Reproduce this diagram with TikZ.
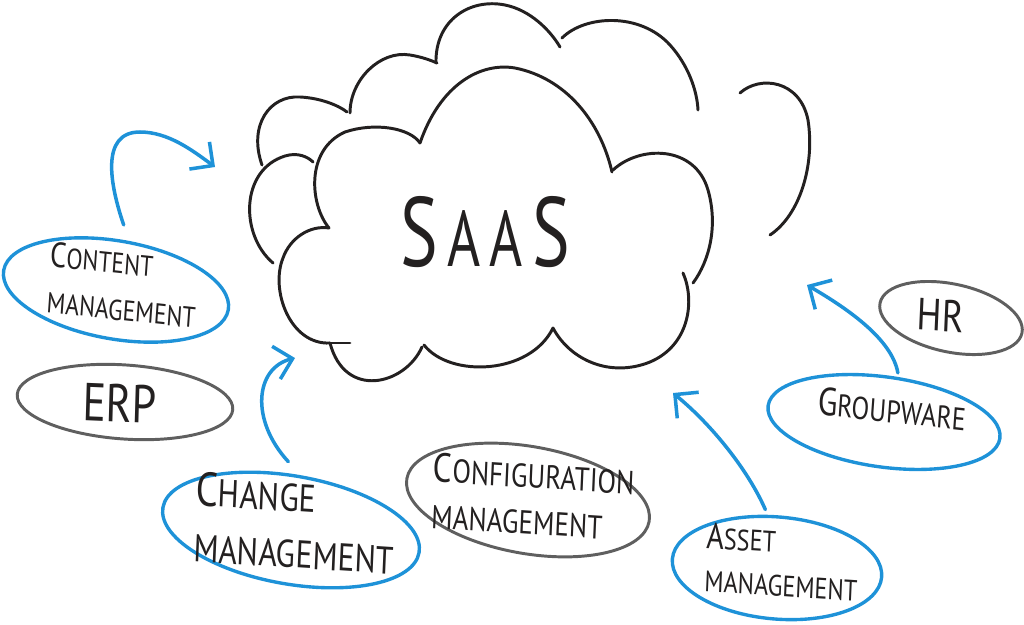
\documentclass[tikz,border=0pt]{standalone}
\usepackage{fontspec}
\setmainfont{PT Sans}
\usetikzlibrary{shapes.geometric, arrows.meta}
\definecolor{mblue}{RGB}{30,146,216}
\definecolor{ink}{RGB}{35,32,32}
\definecolor{pgray}{RGB}{95,95,95}
\begin{document}
\begin{tikzpicture}[x=0.025cm, y=-0.025cm,
  cloudline/.style={draw=ink, line width=2.1pt, line cap=round, line join=round},
  blueell/.style={ellipse, draw=mblue, line width=2.4pt, inner sep=0pt},
  grayell/.style={ellipse, draw=pgray, line width=2.1pt, inner sep=0pt},
  lbl/.style={text=ink, align=left, inner sep=0pt, xscale=0.82},
  barrow/.style={draw=mblue, line width=2.5pt, line cap=round, line join=round,
    -{Straight Barb[length=12pt,width=24pt]}}
]
\useasboundingbox (0,0) rectangle (1024,624);

% ---------- back cloud ----------
\draw[cloudline] (273,263) .. controls (240,235) and (240,170) .. (285,156) .. controls (298,152) and (308,157) .. (313,162);
\draw[cloudline] (262,165) .. controls (248,125) and (270,95) .. (300,97) .. controls (320,98) and (338,105) .. (347,112);
\draw[cloudline] (350,113) .. controls (350,80) and (380,50) .. (410,55) .. controls (422,57) and (430,60) .. (437,63);
\draw[cloudline] (436,63) .. controls (435,20) and (470,-2) .. (505,5) .. controls (530,10) and (550,30) .. (560,47);
\draw[cloudline] (562,38) .. controls (585,15) and (640,12) .. (670,45) .. controls (688,65) and (697,90) .. (698,110);
\draw[cloudline] (740,93) .. controls (760,75) and (800,80) .. (808,120) .. controls (815,165) and (800,215) .. (770,235);

% ---------- front cloud ----------
\draw[cloudline] (329,228) .. controls (310,205) and (305,150) .. (345,132) .. controls (375,122) and (410,128) .. (420,143);
\draw[cloudline] (420,143) .. controls (440,85) and (480,62) .. (515,68) .. controls (565,78) and (600,120) .. (612,172);
\draw[cloudline] (613,170) .. controls (640,145) and (695,145) .. (708,190) .. controls (718,225) and (710,260) .. (693,283);
\draw[cloudline] (683,273) .. controls (695,300) and (690,345) .. (650,362) .. controls (610,378) and (570,360) .. (553,328);
\draw[cloudline] (553,328) .. controls (530,375) and (450,378) .. (424,345);
\draw[cloudline] (422,347) .. controls (405,385) and (345,400) .. (330,343);
\draw[cloudline] (330,343) -- (350,343);
\draw[cloudline] (330,343) .. controls (290,345) and (270,290) .. (283,258) .. controls (290,238) and (310,225) .. (329,228);

\node[text=ink, inner sep=0pt, xscale=0.72] (saas) at (485,232)
  {\fontsize{70}{70}\selectfont S\fontsize{56}{56}\selectfont\,A\,A\,\fontsize{70}{70}\selectfont S};

% ---------- ellipses ----------
\node[blueell, minimum width=5.70cm, minimum height=2.45cm, rotate=-10] (content) at (116,290) {};
\node[grayell, minimum width=5.40cm, minimum height=1.85cm, rotate=-4] (erp) at (125,402) {};
\node[blueell, minimum width=6.50cm, minimum height=2.70cm, rotate=-10] (change) at (291,530) {};
\node[grayell, minimum width=6.15cm, minimum height=2.675cm, rotate=-10] (config) at (528,500) {};
\node[blueell, minimum width=5.25cm, minimum height=2.55cm, rotate=-5] (asset) at (777,568) {};
\node[blueell, minimum width=5.85cm, minimum height=2.25cm, rotate=-8] (grp) at (884,422) {};
\node[grayell, minimum width=3.625cm, minimum height=1.70cm, rotate=-12] (hr) at (951,318) {};

% ---------- labels ----------
\node[lbl, rotate=-5, font=\fontsize{20.5}{33}\selectfont] (tcontent) at (123,285)
  {{\fontsize{25}{25}\selectfont C}ONTENT\\MANAGEMENT};
\node[lbl, rotate=-2, font=\fontsize{38}{40}\selectfont] (terp) at (120,403) {ERP};
\node[lbl, rotate=-3, font=\fontsize{27.5}{40}\selectfont] (tchange) at (295,523)
  {{\fontsize{34}{34}\selectfont C}HANGE\\MANAGEMENT};
\node[lbl, rotate=-3, font=\fontsize{23.5}{33}\selectfont] (tconfig) at (533,497)
  {{\fontsize{29}{29}\selectfont C}ONFIGURATION\\MANAGEMENT};
\node[lbl, rotate=-3, font=\fontsize{21}{31}\selectfont] (tasset) at (782,562)
  {{\fontsize{26}{26}\selectfont A}SSET\\MANAGEMENT};
\node[lbl, rotate=-5, font=\fontsize{22.5}{26}\selectfont] (tgrp) at (892,409)
  {{\fontsize{28}{28}\selectfont G}ROUPWARE};
\node[lbl, rotate=-3, font=\fontsize{32}{34}\selectfont] (thr) at (941,315) {HR};

% ---------- arrow tips ----------
\coordinate (tipA) at (215,167);
\coordinate (tipB) at (295,358);
\coordinate (tipC) at (673,393);
\coordinate (tipD) at (807,285);

% ---------- arrows ----------
\draw[barrow, shorten <=12pt] (content.85) .. controls (110,185) and (100,132) .. (140,132) .. controls (168,132) and (192,150) .. (tipA);
\draw[barrow, shorten <=13pt] (change.north) .. controls (250,420) and (255,368) .. (tipB);
\draw[barrow, shorten <=4pt] (asset.105) .. controls (748,470) and (712,425) .. (tipC);
\draw[barrow, shorten <=3pt] (grp.80) .. controls (892,340) and (850,310) .. (tipD);
\end{tikzpicture}
\end{document}
